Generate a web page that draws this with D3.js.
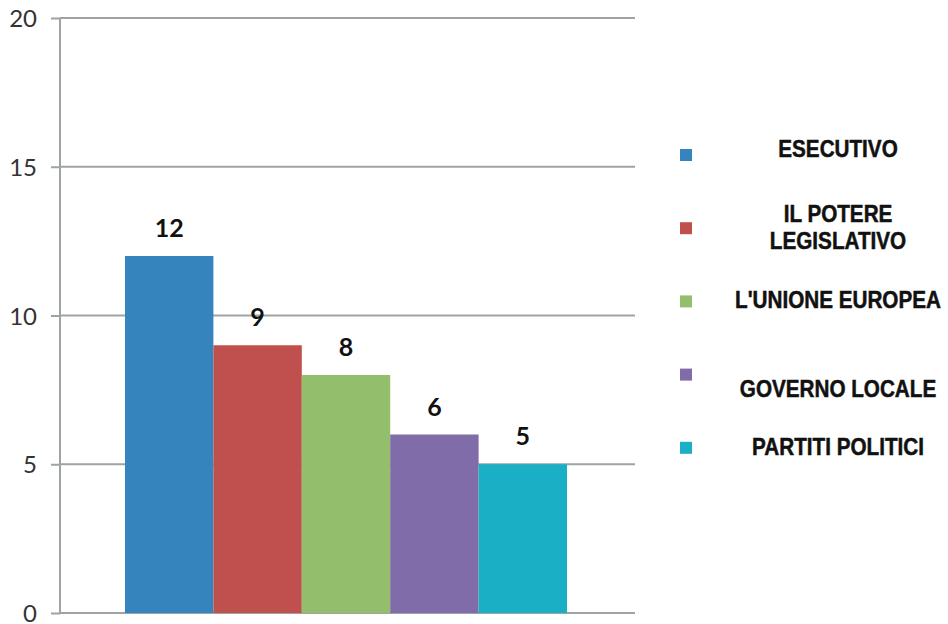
<!DOCTYPE html>
<html>
<head>
<meta charset="utf-8">
<script src="https://cdn.jsdelivr.net/npm/d3@7"></script>
<style>
  body { margin: 0; background: #fff; }
  .tick text { font-family: Lato, "Open Sans", sans-serif; fill: #333; }
  .legend text { font-family: "Liberation Sans", Arial, sans-serif; font-weight: bold; fill: #111; stroke: #111; stroke-width: 0.5px; }
</style>
</head>
<body>
<svg id="chart" width="948" height="624"></svg>
<script>
'use strict';

// data
const categories = ['ESECUTIVO', 'IL POTERE LEGISLATIVO', "L'UNIONE EUROPEA", 'GOVERNO LOCALE', 'PARTITI POLITICI'];
const legendLines = [['ESECUTIVO'], ['IL POTERE', 'LEGISLATIVO'], ["L'UNIONE EUROPEA"], ['GOVERNO LOCALE'], ['PARTITI POLITICI']];
const values = [12, 9, 8, 6, 5];
const yTicks = [0, 5, 10, 15, 20];
const colors = ['#3584bd', '#c0504d', '#93bf6c', '#7f6ca8', '#19afc5'];

// legend text nudges (layout only, the source legend is not evenly aligned)
const legendTextShift = [-5, 0, 0, 15, 0];

const svg = d3.select('#chart');

const plot = { left: 60, right: 635, top: 18, bottom: 613 };

const y = d3.scaleLinear().domain([0, 20]).range([plot.bottom, plot.top]);
const x = d3.scaleBand().domain(categories).range([125, 567]).paddingInner(0);

// GRID
svg.append('g')
  .selectAll('line')
  .data(yTicks)
  .join('line')
  .attr('x1', plot.left)
  .attr('x2', plot.right)
  .attr('y1', d => y(d))
  .attr('y2', d => y(d))
  .style('stroke', '#9ea3a3')
  .style('stroke-width', 2);

// Y AXIS
const yAxis = d3.axisLeft(y).tickValues(yTicks).tickSize(9).tickPadding(14);
const gy = svg.append('g').attr('transform', `translate(${ plot.left }, 0)`).call(yAxis);
gy.select('.domain').style('stroke', '#9ea3a3').style('stroke-width', 2).attr('d', `M0,${ plot.top }V${ plot.bottom }`);
gy.selectAll('.tick line').style('stroke', '#9ea3a3').style('stroke-width', 2);
gy.selectAll('.tick text').style('font-size', '24px').attr('dy', '0.36em');

// BARS
svg.append('g')
  .selectAll('rect')
  .data(values)
  .join('rect')
  .attr('x', (d, i) => x(categories[i]))
  .attr('width', x.bandwidth())
  .attr('y', d => y(d))
  .attr('height', d => y(0) - y(d))
  .style('fill', (d, i) => colors[i]);

// VALUE LABELS
svg.append('g')
  .selectAll('text')
  .data(values)
  .join('text')
  .attr('x', (d, i) => x(categories[i]) + x.bandwidth() / 2)
  .attr('y', d => y(d) - 19)
  .attr('text-anchor', 'middle')
  .style('font-family', 'Lato, "Open Sans", sans-serif')
  .style('font-weight', 'bold')
  .style('font-size', '25px')
  .style('fill', '#111')
  .text(d => d);

// LEGEND
const legend = svg.append('g').attr('class', 'legend');
const item = legend.selectAll('g')
  .data(categories)
  .join('g')
  .attr('transform', (d, i) => `translate(0, ${ 155 + i * 73.2 })`);

item.append('rect')
  .attr('x', 680)
  .attr('y', -6)
  .attr('width', 12)
  .attr('height', 12)
  .style('fill', (d, i) => colors[i]);

item.each(function (d, i) {
  const lines = legendLines[i];
  const g = d3.select(this);
  lines.forEach((line, j) => {
    const base = 7 + legendTextShift[i] + (j - (lines.length - 1) / 2) * 27;
    g.append('text')
      .attr('transform', `translate(838, ${ base }) scale(0.88, 1)`)
      .attr('text-anchor', 'middle')
      .style('font-size', '23.5px')
      .text(line);
  });
});
</script>
</body>
</html>
